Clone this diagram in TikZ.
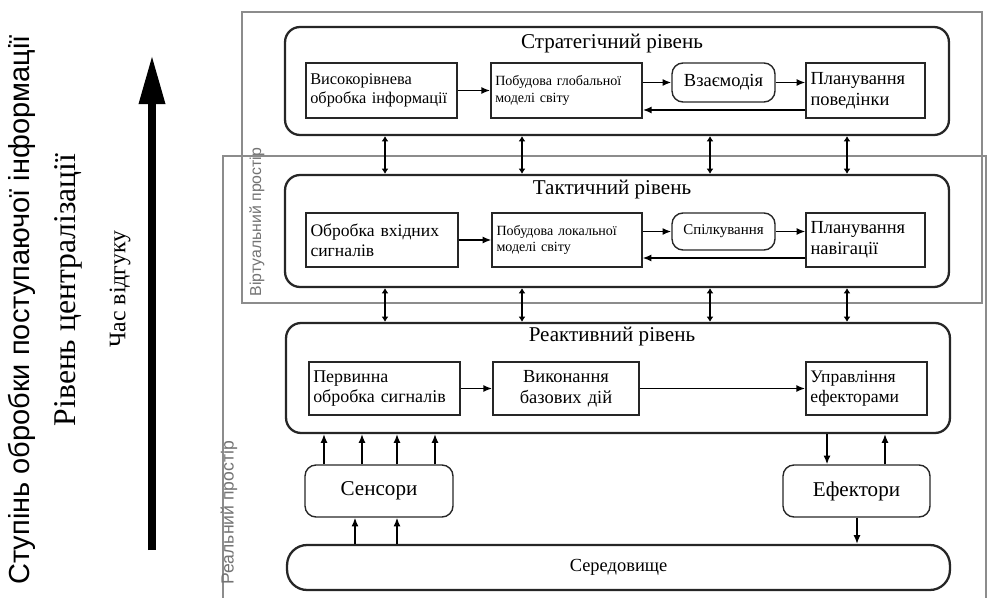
\documentclass[tikz,border=0pt]{standalone}
\usepackage{fontspec}
\setmainfont{Liberation Serif}
\newfontfamily\sansf{Liberation Sans}
\usetikzlibrary{arrows.meta}
\begin{document}
\begin{tikzpicture}[x=0.02cm,y=-0.02cm,
  frame/.style={draw=black!45, line width=0.9pt},
  framelabel/.style={text=black!55, rotate=90, font=\sansf\fontsize{9}{10}\selectfont, inner sep=0pt},
  level/.style={draw=black!85, line width=1.3pt, rounded corners=0.3cm, minimum width=13.28cm, inner sep=0pt},
  leveltitle/.style={font=\fontsize{12}{13}\selectfont, inner sep=0pt},
  ibox/.style={draw=black!85, line width=0.8pt, inner sep=2.5pt, align=left},
  rbox/.style={draw=black!85, line width=0.8pt, rounded corners=0.22cm, inner sep=2pt, align=center},
  harrow/.style={line width=0.9pt, -{Latex[length=5pt,width=4pt]}},
  vlink/.style={line width=1.5pt, {Latex[length=3pt,width=4pt]}-{Latex[length=3pt,width=4pt]}},
  uparrow/.style={line width=0.8pt, -{Latex[length=5pt,width=4pt]}},
  bigarrow/.style={line width=4.5pt, -{Triangle[length=28pt,width=14pt]}},
  sidetext/.style={rotate=90, inner sep=0pt}
]
\useasboundingbox (0,0) rectangle (987,598);

% frames
\draw[frame] (242,12) rectangle (982,303);
\draw[frame] (223,598) -- (223,156) -- (987,156);
\draw[frame] (986,156) -- (986,598);
\node[framelabel] (vlabel) at (257,222) {Віртуальний простір};
\node[framelabel, font=\sansf\fontsize{10}{11}\selectfont] (rlabel) at (229,513) {Реальний простір};

% left side
\coordinate (abot) at (152,550);
\coordinate (atop) at (152,55);
\draw[bigarrow] (abot) -- (atop);
\node[sidetext, font=\sansf\fontsize{16.5}{18}\selectfont] (t1) at (22,310) {Ступінь обробки поступаючої інформації};
\node[sidetext, font=\fontsize{18}{19}\selectfont] (t2) at (68,290) {Рівень централізації};
\node[sidetext, font=\fontsize{13.5}{15}\selectfont] (t3) at (120,289) {Час відгуку};

% strategic level
\node[level, minimum height=2.16cm] (S) at (617,81) {};
\node[leveltitle] (St) at (612,44) {Стратегічний рівень};
\node[ibox, minimum width=2.94cm, minimum height=1.1cm, text width=2.85cm, font=\fontsize{9.3}{11}\selectfont] (SB1) at (381.5,90.5) {Високорівнева\\обробка інформації};
\node[ibox, minimum width=2.94cm, minimum height=1.1cm, text width=2.85cm, font=\fontsize{8}{9.5}\selectfont] (SB2) at (566.5,90.5) {Побудова глобальної\\моделі світу};
\node[rbox, minimum width=2.06cm, minimum height=0.78cm, font=\fontsize{10.5}{12}\selectfont] (SB3) at (723.5,82.5) {Взаємодія};
\node[ibox, minimum width=2.3cm, minimum height=1.1cm, text width=2.2cm, font=\fontsize{10.5}{12}\selectfont] (SB4) at (865.5,90.5) {Планування\\поведінки};
\draw[harrow] (SB1) -- (SB2);
\draw[harrow] (SB2.east |- SB3) -- (SB3.west);
\draw[harrow] (SB3.east) -- (SB4.west |- SB3);
\draw[harrow] ([yshift=-0.39cm]SB4.west) -- ([yshift=-0.39cm]SB2.east);

% tactical level
\node[level, minimum height=2.24cm] (T) at (617,231) {};
\node[leveltitle] (Tt) at (612,190) {Тактичний рівень};
\node[ibox, minimum width=2.96cm, minimum height=1.08cm, text width=2.86cm, font=\fontsize{10}{11.5}\selectfont] (TB1) at (382,240) {Обробка вхідних\\сигналів};
\node[ibox, minimum width=2.92cm, minimum height=1.08cm, text width=2.82cm, font=\fontsize{8}{9.5}\selectfont] (TB2) at (567,240) {Побудова локальної\\моделі світу};
\node[rbox, minimum width=2.06cm, minimum height=0.74cm, font=\fontsize{8.5}{10}\selectfont] (TB3) at (723.5,231.5) {Спілкування};
\node[ibox, minimum width=2.3cm, minimum height=1.08cm, text width=2.2cm, font=\fontsize{10.5}{12}\selectfont] (TB4) at (865.5,240) {Планування\\навігації};
\draw[harrow] (TB1) -- (TB2);
\draw[harrow] (TB2.east |- TB3) -- (TB3.west);
\draw[harrow] (TB3.east) -- (TB4.west |- TB3);
\draw[harrow] ([yshift=-0.36cm]TB4.west) -- ([yshift=-0.36cm]TB2.east);

% reactive level
\node[level, minimum height=2.2cm] (R) at (618,378) {};
\node[leveltitle] (Rt) at (612,337) {Реактивний рівень};
\node[ibox, minimum width=2.94cm, minimum height=1.06cm, text width=2.85cm, font=\fontsize{10.2}{11.5}\selectfont] (RB1) at (384.5,388.5) {Первинна\\обробка сигналів};
\node[ibox, minimum width=2.84cm, minimum height=1.06cm, text width=2.75cm, align=center, font=\fontsize{10.5}{12}\selectfont] (RB2) at (566,388.5) {Виконання\\базових дій};
\node[ibox, minimum width=2.34cm, minimum height=1.06cm, text width=2.25cm, font=\fontsize{10}{11.5}\selectfont] (RB3) at (866.5,388.5) {Управління\\ефекторами};
\draw[harrow] (RB1) -- (RB2);
\draw[harrow] (RB2) -- (RB3);

% vertical links between levels
\foreach \x/\n in {385/a,522/b,710/c,847/d} {
  \coordinate (c\n) at (\x,0);
  \draw[vlink] (S.south -| c\n) -- (T.north -| c\n);
  \draw[vlink] (T.south -| c\n) -- (R.north -| c\n);
}

% sensors, effectors, environment
\node[rbox, minimum width=2.96cm, minimum height=1.04cm, font=\fontsize{12}{13}\selectfont] (Sen) at (379,491) {Сенсори};
\node[rbox, minimum width=2.94cm, minimum height=1.04cm, font=\fontsize{12}{13}\selectfont] (Eff) at (856.5,491) {Ефектори};
\node[draw=black!85, line width=1.3pt, rounded corners=0.4cm, minimum width=13.26cm, minimum height=0.9cm, font=\fontsize{10.5}{12}\selectfont] (Env) at (618.5,567.5) {Середовище};

\foreach \x/\n in {324/a,362/b,397/c,435/d} {
  \coordinate (s\n) at (\x,0);
  \draw[uparrow] (Sen.north -| s\n) -- (R.south -| s\n);
}
\foreach \x/\n in {355/a,397/b} {
  \coordinate (e\n) at (\x,0);
  \draw[uparrow] (Env.north -| e\n) -- (Sen.south -| e\n);
}
\coordinate (fa) at (827,0);
\coordinate (fb) at (885,0);
\coordinate (fc) at (857,0);
\draw[uparrow] (R.south -| fa) -- (Eff.north -| fa);
\draw[uparrow] (Eff.north -| fb) -- (R.south -| fb);
\draw[uparrow] (Eff.south -| fc) -- (Env.north -| fc);
\end{tikzpicture}
\end{document}
